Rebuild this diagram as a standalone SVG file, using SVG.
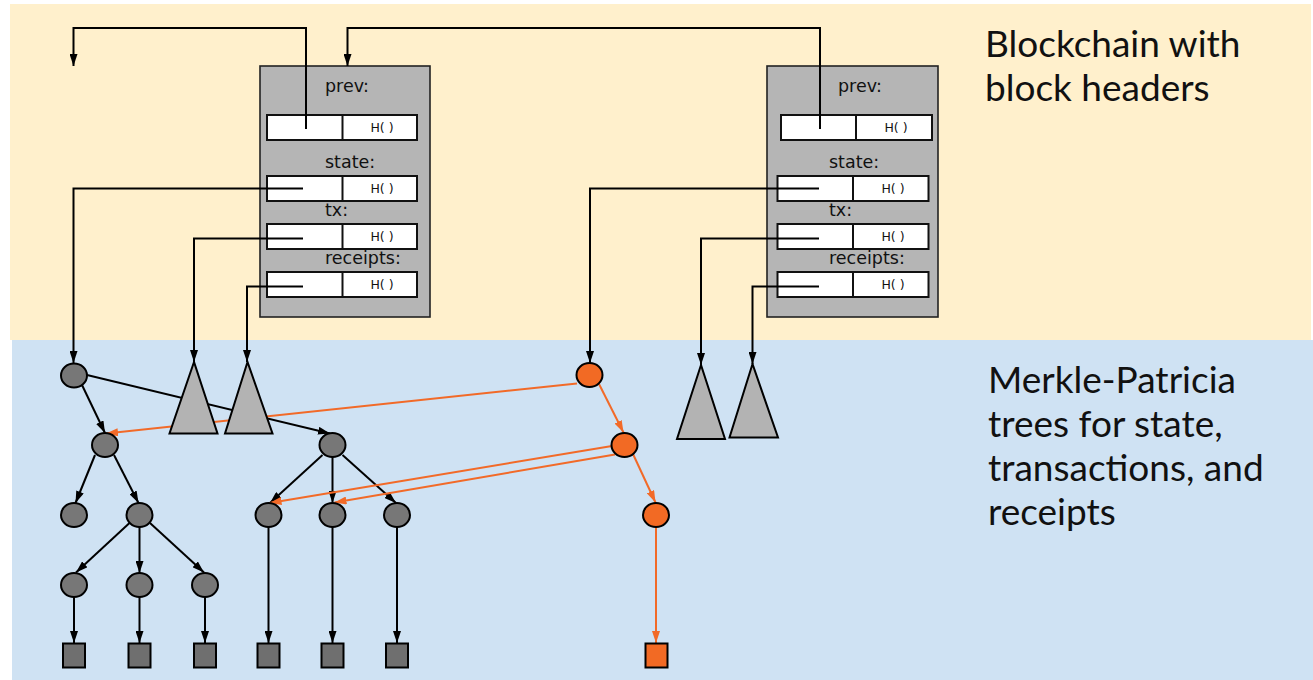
<svg xmlns="http://www.w3.org/2000/svg" width="1313" height="680" viewBox="0 0 1313 680">
  <style>
    .lbl { font-family: "DejaVu Sans", "Liberation Sans", sans-serif; font-size: 17.5px; fill: #111; }
    .hash { font-family: "DejaVu Sans", "Liberation Sans", sans-serif; font-size: 12.5px; fill: #111; }
    .big { font-family: Lato, "Open Sans", "Liberation Sans", sans-serif; font-size: 37px; fill: #111; }
    .block { fill: #b5b5b5; stroke: #222; stroke-width: 1.6; }
    .field { fill: #fff; stroke: #111; stroke-width: 2; }
    .wire { fill: none; stroke: #000; stroke-width: 2; }
    .hot { fill: none; stroke: #f26a28; stroke-width: 2; }
    .node { fill: #777; stroke: #000; stroke-width: 2; }
    .leaf { fill: #6f6f6f; stroke: #000; stroke-width: 2; }
    .hnode { fill: #f26a24; stroke: #000; stroke-width: 2; }
    .tri { fill: #b3b3b3; stroke: #000; stroke-width: 2; stroke-linejoin: miter; }
  </style>
  <defs>
    <marker id="ab" viewBox="0 0 12 8" refX="12" refY="4" markerWidth="12" markerHeight="8" markerUnits="userSpaceOnUse" orient="auto">
      <path d="M0,0 L12,4 L0,8 z" fill="#000"/>
    </marker>
    <marker id="ao" viewBox="0 0 12 8" refX="12" refY="4" markerWidth="12" markerHeight="8" markerUnits="userSpaceOnUse" orient="auto">
      <path d="M0,0 L12,4 L0,8 z" fill="#f26a28"/>
    </marker>
  </defs>

  <!-- bands -->
  <rect x="10" y="4" width="1301" height="336" fill="#fff0cc"/>
  <rect x="12" y="340" width="1301" height="340" fill="#cfe2f3"/>

  <text class="big" x="985" y="57">Blockchain with</text>
  <text class="big" x="985" y="101">block headers</text>
  <text class="big" x="988" y="393">Merkle-Patricia</text>
  <text class="big" x="988" y="437">trees for state,</text>
  <text class="big" x="988" y="481">transactions, and</text>
  <text class="big" x="988" y="525">receipts</text>

  <!-- block headers -->
  <g id="block1">
    <rect class="block" x="260" y="66" width="170" height="251"/>
    <text class="lbl" x="325" y="92">prev:</text>
    <rect class="field" x="267" y="115" width="150" height="25"/>
    <line x1="342.5" y1="115" x2="342.5" y2="140" stroke="#111" stroke-width="2"/>
    <text class="hash" x="382" y="132" text-anchor="middle">H( )</text>
    <text class="lbl" x="325" y="168">state:</text>
    <rect class="field" x="267" y="176" width="150" height="25"/>
    <line x1="342.5" y1="176" x2="342.5" y2="201" stroke="#111" stroke-width="2"/>
    <text class="hash" x="382" y="193" text-anchor="middle">H( )</text>
    <text class="lbl" x="325" y="216">tx:</text>
    <rect class="field" x="267" y="224" width="150" height="25"/>
    <line x1="342.5" y1="224" x2="342.5" y2="249" stroke="#111" stroke-width="2"/>
    <text class="hash" x="382" y="241" text-anchor="middle">H( )</text>
    <text class="lbl" x="325" y="264">receipts:</text>
    <rect class="field" x="267" y="272" width="150" height="25"/>
    <line x1="342.5" y1="272" x2="342.5" y2="297" stroke="#111" stroke-width="2"/>
    <text class="hash" x="382" y="289" text-anchor="middle">H( )</text>
  </g>

  <g id="block2">
    <rect class="block" x="767" y="66" width="171" height="251"/>
    <text class="lbl" x="838" y="92">prev:</text>
    <rect class="field" x="781" y="115" width="151" height="25"/>
    <line x1="856" y1="115" x2="856" y2="140" stroke="#111" stroke-width="2"/>
    <text class="hash" x="896" y="132" text-anchor="middle">H( )</text>
    <text class="lbl" x="829" y="168">state:</text>
    <rect class="field" x="777.5" y="176" width="151" height="25"/>
    <line x1="853" y1="176" x2="853" y2="201" stroke="#111" stroke-width="2"/>
    <text class="hash" x="893" y="193" text-anchor="middle">H( )</text>
    <text class="lbl" x="829" y="216">tx:</text>
    <rect class="field" x="777.5" y="224" width="151" height="25"/>
    <line x1="853" y1="224" x2="853" y2="249" stroke="#111" stroke-width="2"/>
    <text class="hash" x="893" y="241" text-anchor="middle">H( )</text>
    <text class="lbl" x="829" y="264">receipts:</text>
    <rect class="field" x="777.5" y="272" width="151" height="25"/>
    <line x1="853" y1="272" x2="853" y2="297" stroke="#111" stroke-width="2"/>
    <text class="hash" x="893" y="289" text-anchor="middle">H( )</text>
  </g>

  <!-- connectors -->
  <g id="connectors">
    <!-- prev links -->
    <path class="wire" d="M306,129 V28 H73.5 V66" marker-end="url(#ab)"/>
    <path class="wire" d="M820,129 V28 H347.5 V66" marker-end="url(#ab)"/>
    <!-- roots of block 1 -->
    <path class="wire" d="M303,188.5 H73.5 V363" marker-end="url(#ab)"/>
    <path class="wire" d="M303,238.5 H194 V362" marker-end="url(#ab)"/>
    <path class="wire" d="M303,286.5 H247 V362" marker-end="url(#ab)"/>
    <!-- roots of block 2 -->
    <path class="wire" d="M819,188.5 H590 V363" marker-end="url(#ab)"/>
    <path class="wire" d="M819,238.5 H701 V365" marker-end="url(#ab)"/>
    <path class="wire" d="M819,286.5 H752.5 V364" marker-end="url(#ab)"/>

    <!-- tree edges -->
    <line class="wire" x1="82" y1="385" x2="105" y2="433" marker-end="url(#ab)"/>
    <line class="wire" x1="87" y1="375" x2="330" y2="433.5" marker-end="url(#ab)"/>
    <line class="wire" x1="95" y1="455" x2="75.5" y2="503" marker-end="url(#ab)"/>
    <line class="wire" x1="114" y1="455" x2="138.5" y2="503" marker-end="url(#ab)"/>
    <line class="wire" x1="129.5" y1="523" x2="76" y2="572.5" marker-end="url(#ab)"/>
    <line class="wire" x1="139.5" y1="527" x2="139.5" y2="573" marker-end="url(#ab)"/>
    <line class="wire" x1="150" y1="523" x2="204" y2="572.5" marker-end="url(#ab)"/>
    <line class="wire" x1="322.5" y1="455" x2="270" y2="503" marker-end="url(#ab)"/>
    <line class="wire" x1="332.5" y1="457" x2="332.5" y2="503" marker-end="url(#ab)"/>
    <line class="wire" x1="342.5" y1="455" x2="396" y2="503" marker-end="url(#ab)"/>
    <line class="wire" x1="74" y1="597" x2="74" y2="643" marker-end="url(#ab)"/>
    <line class="wire" x1="139.5" y1="597" x2="139.5" y2="643" marker-end="url(#ab)"/>
    <line class="wire" x1="205" y1="597" x2="205" y2="643" marker-end="url(#ab)"/>
    <line class="wire" x1="268.5" y1="527" x2="268.5" y2="643" marker-end="url(#ab)"/>
    <line class="wire" x1="332.5" y1="527" x2="332.5" y2="643" marker-end="url(#ab)"/>
    <line class="wire" x1="397" y1="527" x2="397" y2="643" marker-end="url(#ab)"/>

    <!-- updated path -->
    <line class="hot" x1="599" y1="384" x2="623.5" y2="432.5" marker-end="url(#ao)"/>
    <line class="hot" x1="633" y1="454" x2="655.5" y2="502.5" marker-end="url(#ao)"/>
    <line class="hot" x1="656" y1="527" x2="656" y2="643" marker-end="url(#ao)"/>
    <line class="hot" x1="577" y1="383.5" x2="106" y2="433.5" marker-end="url(#ao)"/>
    <line class="hot" x1="612" y1="446" x2="269.5" y2="503" marker-end="url(#ao)"/>
    <line class="hot" x1="615" y1="454.5" x2="334.5" y2="502.5" marker-end="url(#ao)"/>
  </g>

  <!-- subtries drawn as triangles -->
  <g id="tri1"><polygon class="tri" points="194,362 169.5,433.5 217.5,433.5"/></g>
  <g id="tri2"><polygon class="tri" points="247.5,362 225,433.5 272.5,433.5"/></g>
  <g id="tri3"><polygon class="tri" points="701,365 677,439 725,439"/></g>
  <g id="tri4"><polygon class="tri" points="752.5,364 729.5,437.5 778,437.5"/></g>

  <!-- trie nodes -->
  <g id="n-a"><ellipse class="node" cx="74" cy="375.5" rx="13" ry="12"/></g>
  <g id="n-b"><ellipse class="node" cx="105" cy="445" rx="13" ry="12"/></g>
  <g id="n-c"><ellipse class="node" cx="332.5" cy="445" rx="13" ry="12"/></g>
  <g id="n-d"><ellipse class="node" cx="74" cy="515" rx="13" ry="12"/></g>
  <g id="n-e"><ellipse class="node" cx="139.5" cy="515" rx="13" ry="12"/></g>
  <g id="n-f"><ellipse class="node" cx="74" cy="585" rx="13" ry="12"/></g>
  <g id="n-g"><ellipse class="node" cx="139.5" cy="585" rx="13" ry="12"/></g>
  <g id="n-h"><ellipse class="node" cx="205" cy="585" rx="13" ry="12"/></g>
  <g id="n-i"><ellipse class="node" cx="268.5" cy="515" rx="13" ry="12"/></g>
  <g id="n-j"><ellipse class="node" cx="332.5" cy="515" rx="13" ry="12"/></g>
  <g id="n-k"><ellipse class="node" cx="397" cy="515" rx="13" ry="12"/></g>
  <g id="n-o1"><ellipse class="hnode" cx="589.5" cy="375" rx="13" ry="12"/></g>
  <g id="n-o2"><ellipse class="hnode" cx="624.5" cy="445" rx="13" ry="12"/></g>
  <g id="n-o3"><ellipse class="hnode" cx="656" cy="515" rx="13" ry="12"/></g>

  <!-- leaves -->
  <g id="l1"><rect class="leaf" x="63" y="643.5" width="22" height="24"/></g>
  <g id="l2"><rect class="leaf" x="128.5" y="643.5" width="22" height="24"/></g>
  <g id="l3"><rect class="leaf" x="194" y="643.5" width="22" height="24"/></g>
  <g id="l4"><rect class="leaf" x="257.5" y="643.5" width="22" height="24"/></g>
  <g id="l5"><rect class="leaf" x="321.5" y="643.5" width="22" height="24"/></g>
  <g id="l6"><rect class="leaf" x="386" y="643.5" width="22" height="24"/></g>
  <g id="l7"><rect class="hnode" x="645.5" y="643.5" width="22" height="24"/></g>
</svg>
